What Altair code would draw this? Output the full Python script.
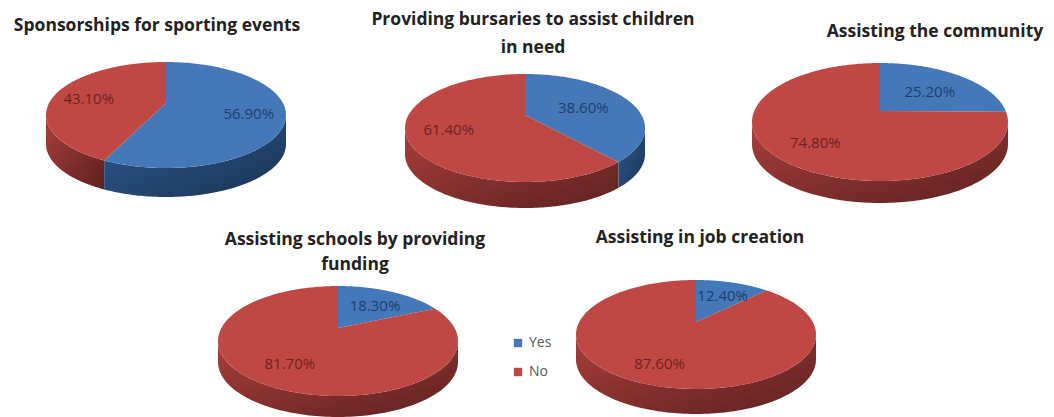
import numpy as np
import pandas as pd
import altair as alt

# Survey results: share of respondents answering "Yes" per initiative
titles = [
    ["Sponsorships for sporting events"],
    ["Providing bursaries to assist children", "in need"],
    ["Assisting the community"],
    ["Assisting schools by providing", "funding"],
    ["Assisting in job creation"],
]
yes_share = [56.9, 38.6, 25.2, 18.3, 12.4]
answers = ["Yes", "No"]

# Layout of each tilted pie: hub position, rim extremes and wall height, in canvas units
hub_x = [166, 525, 880, 338, 696]
hub_y = [103, 115, 111, 328, 322]
rim_top = [62, 74, 63, 286, 280]
rim_bottom = [168, 182, 181, 396, 389]
half_width = [120, 120, 128, 120, 120]
wall = [29, 26, 22, 21, 25]
label_reach = [(0.70, 0.70), (0.56, 0.66), (0.60, 0.66), (0.66, 0.66), (0.69, 0.70)]

title_x = [157, 533, 935, 355, 700]
title_y = [26, 20, 32, 240, 238]
line_gap = [0, 28, 0, 25, 0]

TOP = {"Yes": "#4478b8", "No": "#bf4845"}
LABEL = {"Yes": "#1f3e6b", "No": "#6e2220"}


def project(i, u, v):
    """Perspective view of a unit-disc point (u right, v towards the back)."""
    up = hub_y[i] - rim_top[i]
    down = rim_bottom[i] - hub_y[i]
    k = (down - up) / (down + up)
    b = up * (1 + k)
    a = half_width[i] * np.sqrt(1 - k * k)
    w = 1 + k * v
    return hub_x[i] + a * u / w, hub_y[i] - b * v / w, k


top_rows, wall_rows, label_rows = [], [], []
for i, yes in enumerate(yes_share):
    cut = 2 * np.pi * yes / 100
    spans = {"Yes": (0.0, cut), "No": (cut, 2 * np.pi)}
    for answer, (start, stop) in spans.items():
        # Top face: hub, then around the rim
        angles = np.linspace(start, stop, 160)
        x0, y0, k = project(i, 0.0, 0.0)
        key = f"{i}-{answer}"
        top_rows.append(dict(shape=key, answer=answer, n=0, x=x0, y=y0))
        for n, t in enumerate(angles, 1):
            x, y, _ = project(i, np.sin(t), np.cos(t))
            top_rows.append(dict(shape=key, answer=answer, n=n, x=x, y=y))

        # Front wall: only the part of the rim facing the viewer
        front = np.arccos(-k)
        lo, hi = max(start, front), min(stop, 2 * np.pi - front)
        if hi > lo:
            arc = np.linspace(lo, hi, 120)
            edge = [project(i, np.sin(t), np.cos(t))[:2] for t in arc]
            ring = [(x, y) for x, y in edge] + [(x, y + wall[i]) for x, y in edge[::-1]]
            for n, (x, y) in enumerate(ring):
                wall_rows.append(dict(shape=key, answer=answer, n=n, x=x, y=y))

        # Value label along the slice's middle angle
        mid = (start + stop) / 2
        reach = label_reach[i][answers.index(answer)]
        x, y, _ = project(i, reach * np.sin(mid), reach * np.cos(mid))
        value = yes if answer == "Yes" else 100 - yes
        label_rows.append(dict(answer=answer, x=x, y=y + 3, text=f"{value:.2f}%"))

title_rows = []
for i, lines in enumerate(titles):
    for j, line in enumerate(lines):
        title_rows.append(dict(x=title_x[i], y=title_y[i] + j * line_gap[i], text=line))

tops = pd.DataFrame(top_rows)
walls = pd.DataFrame(wall_rows)
labels = pd.DataFrame(label_rows)
heads = pd.DataFrame(title_rows)

X = alt.X("x:Q", scale=alt.Scale(domain=[0, 1054]), axis=None)
Y = alt.Y("y:Q", scale=alt.Scale(domain=[417, 0]), axis=None)


def wall_gradient(light, dark):
    return alt.Gradient(
        gradient="linear",
        x1=0, y1=0, x2=1, y2=1,
        stops=[alt.GradientStop(color=light, offset=0), alt.GradientStop(color=dark, offset=1)],
    )


def wall_layer(answer, light, dark):
    return (
        alt.Chart(walls[walls.answer == answer])
        .mark_line(filled=True, fill=wall_gradient(light, dark), strokeWidth=0, interpolate="linear-closed")
        .encode(x=X, y=Y, detail="shape:N", order="n:Q")
    )


top_layer = (
    alt.Chart(tops)
    .mark_line(filled=True, strokeWidth=0, interpolate="linear-closed")
    .encode(
        x=X,
        y=Y,
        detail="shape:N",
        order="n:Q",
        fill=alt.Fill(
            "answer:N",
            scale=alt.Scale(domain=answers, range=[TOP[a] for a in answers]),
            legend=alt.Legend(
                title=None,
                orient="none",
                legendX=511,
                legendY=336,
                symbolType="square",
                symbolSize=70,
                symbolStrokeWidth=0,
                labelFont="Open Sans",
                labelFontSize=14,
                labelColor="#555555",
                labelOffset=4,
                rowPadding=15,
            ),
        ),
    )
)

label_layer = (
    alt.Chart(labels)
    .mark_text(font="Open Sans", fontSize=15, align="center", baseline="middle")
    .encode(
        x=X,
        y=Y,
        text="text:N",
        color=alt.Color(
            "answer:N",
            scale=alt.Scale(domain=answers, range=[LABEL[a] for a in answers]),
            legend=None,
        ),
    )
)

title_layer = (
    alt.Chart(heads)
    .mark_text(font="Open Sans", fontSize=17.5, fontWeight="bold", color="#222222", align="center", baseline="middle")
    .encode(x=X, y=Y, text="text:N")
)

chart = (
    alt.layer(
        wall_layer("No", "#a83e3b", "#5e2120"),
        wall_layer("Yes", "#2f5a91", "#1a3454"),
        top_layer,
        label_layer,
        title_layer,
    )
    .resolve_scale(color="independent", fill="independent")
    .properties(width=1054, height=417, padding=0, autosize=alt.AutoSizeParams(type="none"))
    .configure_view(stroke=None)
)

chart.save("out.html", embed_options={"renderer": "svg", "actions": False})
